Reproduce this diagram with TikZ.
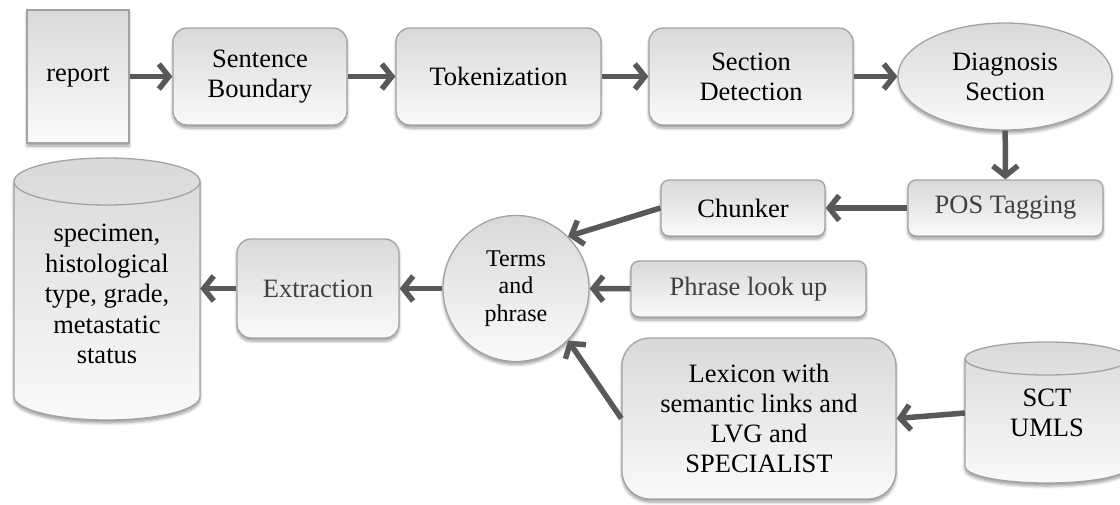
\documentclass[tikz,border=0pt]{standalone}
\usepackage{fontspec}
\setmainfont{Liberation Serif}
\usetikzlibrary{arrows.meta,shapes.geometric,shadows,shadows.blur}
\definecolor{arrowgray}{HTML}{595959}
\definecolor{bordergray}{HTML}{A3A3A3}
\definecolor{topgray}{HTML}{D9D9D9}
\definecolor{botgray}{HTML}{FAFAFA}
\definecolor{txtgray}{HTML}{404040}
\tikzset{
  shd/.style={blur shadow={shadow xshift=0pt,shadow yshift=-3pt,shadow blur steps=6,shadow opacity=40,shadow blur radius=3pt}},
  base/.style={draw=bordergray, line width=1.3pt, top color=topgray, bottom color=botgray, shd, align=center, inner sep=0pt, font=\fontsize{26.5}{30}\selectfont},
  boxbig/.style={base, rectangle, rounded corners=14pt},
  boxsmall/.style={base, rectangle, rounded corners=8pt},
  plain/.style={align=center, inner sep=0pt, font=\fontsize{26.5}{30.5}\selectfont},
  conn/.style={draw=arrowgray, line width=5.5pt, -{Straight Barb[length=10pt,width=25pt]}},
  cylbody/.style={draw=bordergray, line width=1.3pt, top color=topgray, bottom color=botgray, shd},
  cylline/.style={draw=bordergray, line width=1.3pt}
}
\begin{document}
\begin{tikzpicture}[x=1pt,y=1pt]
\useasboundingbox (0,0) rectangle (1120,-504);
% top row
\node[base, rectangle, minimum width=102pt, minimum height=133pt] (rep) at (78,-76.5) {report};
\node[boxbig, minimum width=174pt, minimum height=97pt] (sb) at (260,-76.5) {Sentence\\Boundary};
\node[boxbig, minimum width=205pt, minimum height=97pt] (tok) at (498.5,-76.5) {Tokenization};
\node[boxbig, minimum width=204pt, minimum height=97pt] (sd) at (751,-76.5) {Section\\Detection};
\node[base, ellipse, minimum width=214pt, minimum height=107pt] (diag) at (1005,-76.5) {Diagnosis\\Section};
% second row
\node[boxsmall, minimum width=195pt, minimum height=56pt, text=txtgray] (pos) at (1005.5,-208) {POS Tagging};
\node[boxsmall, minimum width=164pt, minimum height=56pt] (chunk) at (743,-208) {Chunker};
\node[base, circle, minimum size=146pt, font=\fontsize{24}{27.5}\selectfont] (terms) at (516,-288.5) {Terms\\and\\phrase};
\node[boxsmall, minimum width=235pt, minimum height=56pt, text=txtgray] (phr) at (748.5,-289) {Phrase look up};
\node[base, rectangle, rounded corners=28pt, minimum width=274pt, minimum height=161pt] (lex) at (759,-418.5) {Lexicon with\\semantic links and\\LVG and\\SPECIALIST};
\node[boxbig, minimum width=162pt, minimum height=99pt, text=txtgray] (extr) at (318,-288.5) {Extraction};
% specimen cylinder
\path[cylbody] (14,-181.5) -- (14,-396.5) arc (180:360:93 and 23.5) -- (200,-181.5) arc (0:180:93 and 23.5) -- cycle;
\path[cylline] (14,-181.5) arc (180:360:93 and 23.5);
\node[plain, minimum width=186pt] (spec) at (107,-294) {specimen,\\histological\\type, grade,\\metastatic\\status};
% SCT cylinder
\path[cylbody] (965,-358.5) -- (965,-466.5) arc (180:360:82 and 16.5) -- (1129,-358.5) arc (0:180:82 and 16.5) -- cycle;
\path[cylline] (965,-358.5) arc (180:360:82 and 16.5);
\node[plain, minimum width=164pt] (sct) at (1047,-413) {SCT\\UMLS};
% connectors
\draw[conn] (rep) -- (sb);
\draw[conn] (sb) -- (tok);
\draw[conn] (tok) -- (sd);
\draw[conn] (sd) -- (diag);
\draw[conn] (diag) -- (pos);
\draw[conn] (pos) -- (chunk);
\draw[conn] (chunk.west) -- (terms.45);
\draw[conn] (phr) -- (terms);
\draw[conn] (lex.west) -- (terms.-45);
\draw[conn] (sct.west) -- (lex.east);
\draw[conn] (terms) -- (extr);
\draw[conn] (extr.west) -- (extr.west -| spec.east);
\end{tikzpicture}
\end{document}
